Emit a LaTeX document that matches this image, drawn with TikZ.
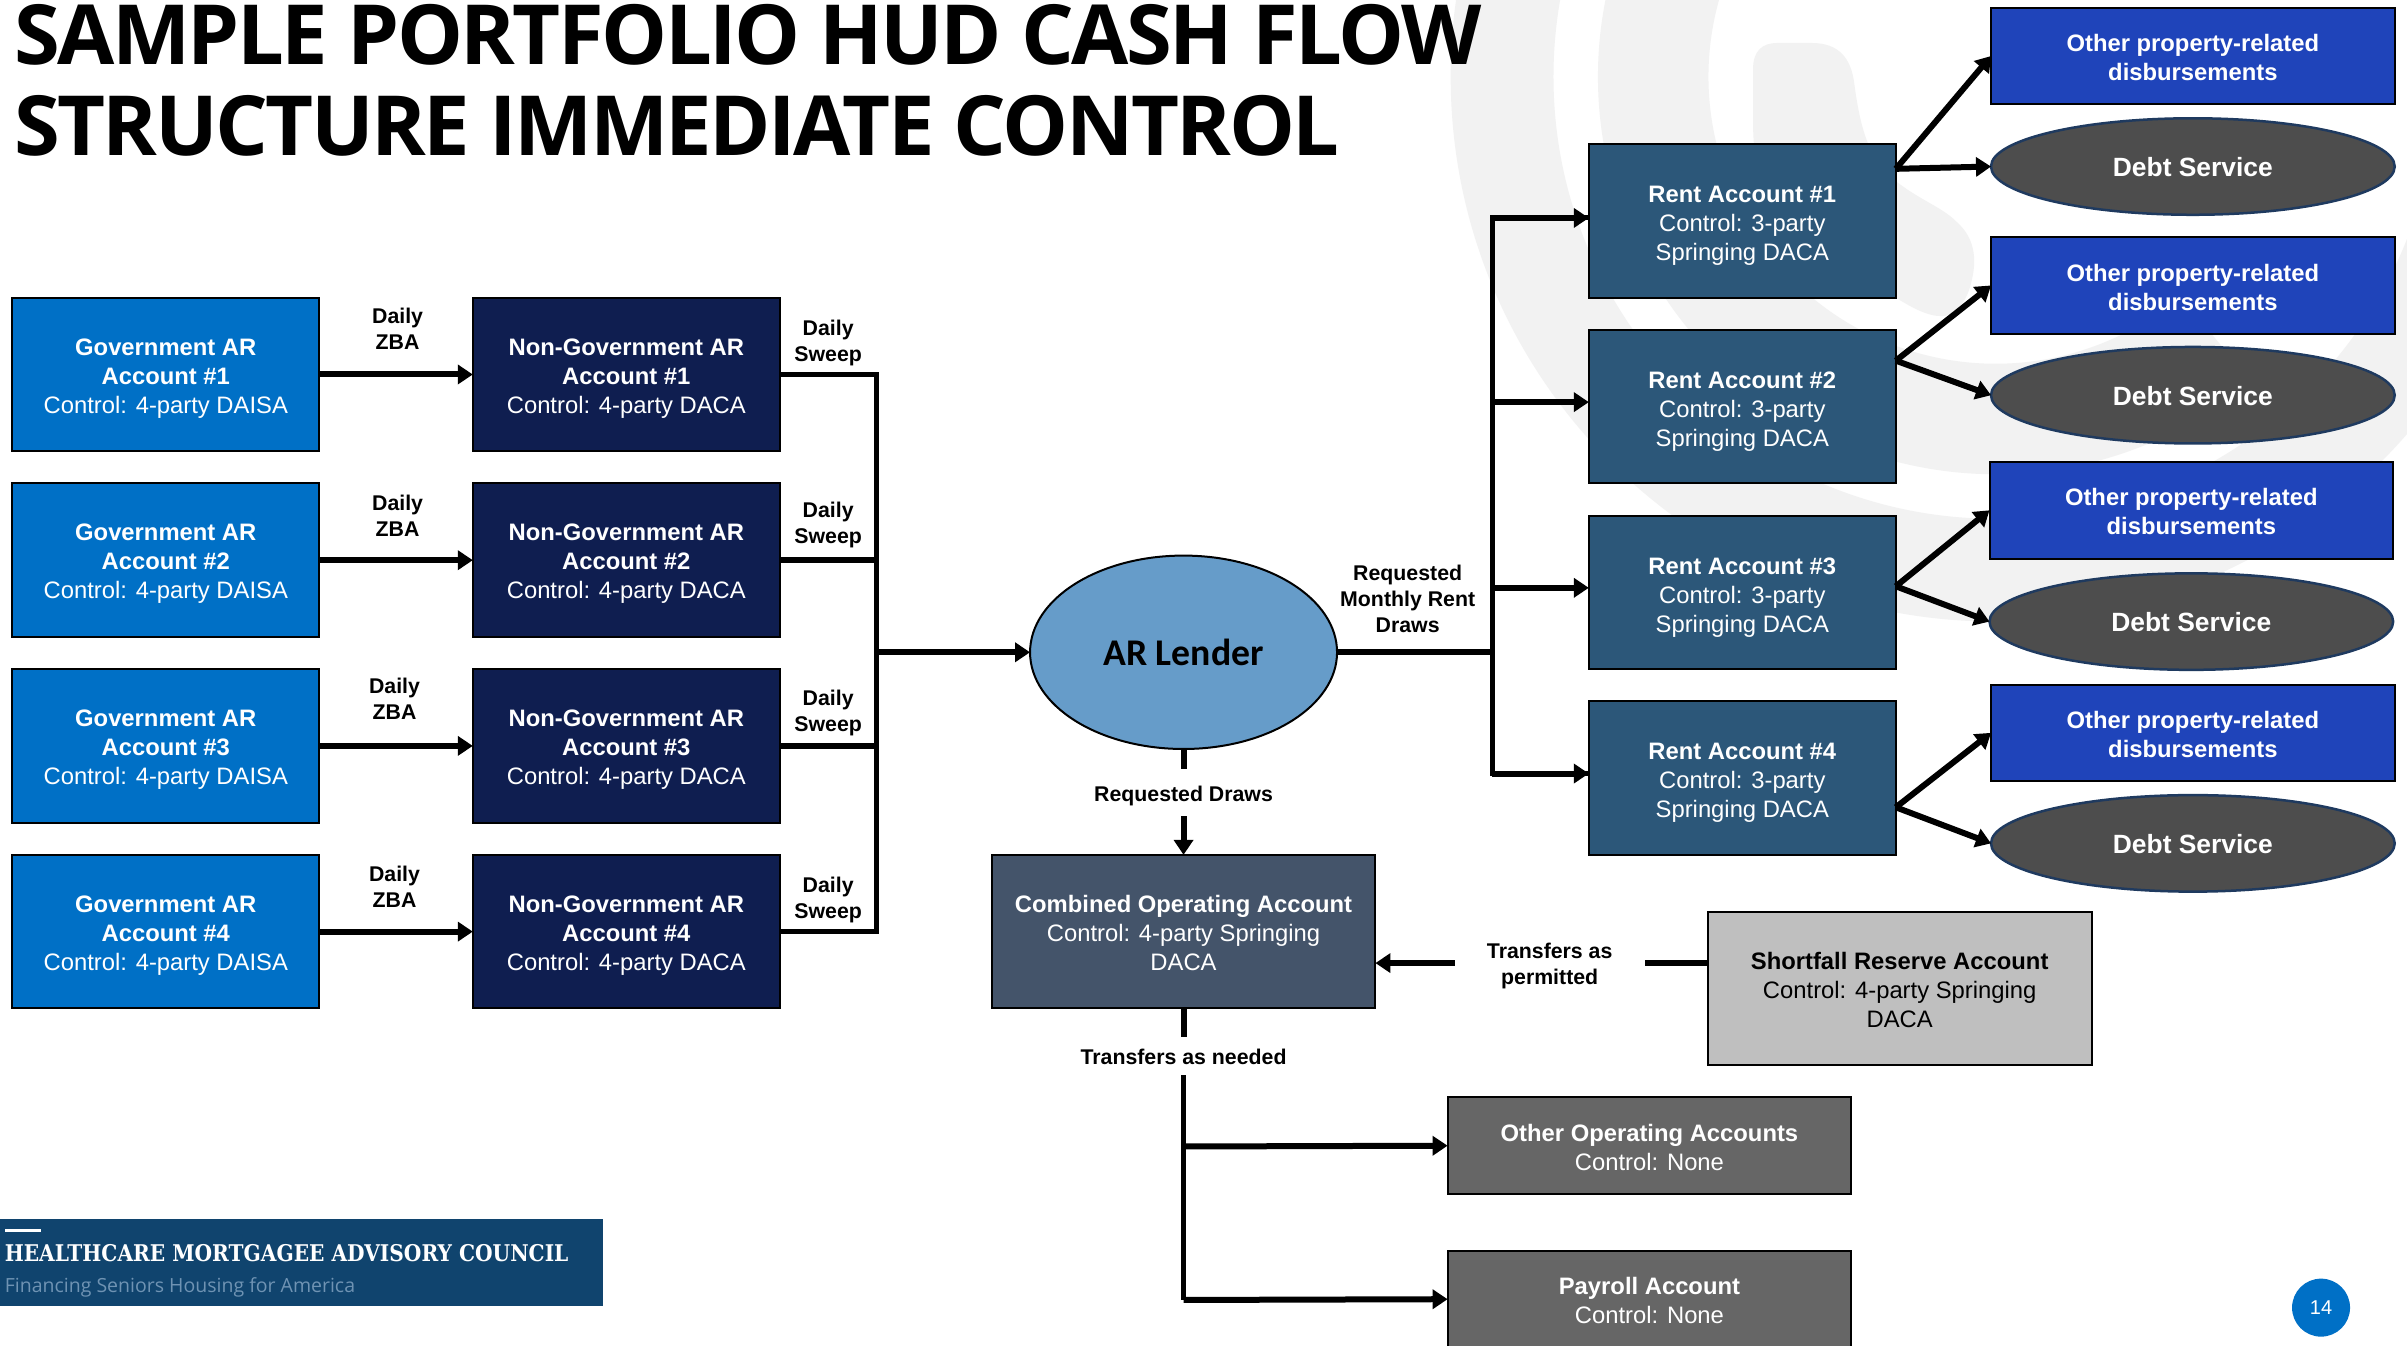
\documentclass[tikz,border=0pt]{standalone}
\usepackage{fontspec}
\setmainfont{Liberation Sans}
\newfontfamily\titlefont{Open Sans}[LetterSpace=-3]
\newfontfamily\lenderfont{Carlito}
\newfontfamily\logoserif{DejaVu Serif}
\newfontfamily\logosans{Open Sans}
\usetikzlibrary{arrows.meta,shapes.geometric}
\definecolor{wmgray}{HTML}{F2F2F2}
\definecolor{govblue}{HTML}{0070C6}
\definecolor{nonblue}{HTML}{0F1E50}
\definecolor{rentblue}{HTML}{2C5779}
\definecolor{otherblue}{HTML}{1F44BA}
\definecolor{debtgray}{HTML}{4D4D4D}
\definecolor{debtedge}{HTML}{1F3A5F}
\definecolor{lenderblue}{HTML}{669CC9}
\definecolor{combslate}{HTML}{44546A}
\definecolor{shortgray}{HTML}{BFBFBF}
\definecolor{opsgray}{HTML}{666666}
\definecolor{logoblue}{HTML}{10446E}
\definecolor{logosub}{HTML}{6F93B3}
\newcommand{\bodyfont}{\fontsize{23.8}{29}\selectfont}
\newcommand{\labelfont}{\fontsize{21.3}{26}\selectfont\bfseries}
\newcommand{\tallA}{\rule{0pt}{26.5pt}}
\newcommand{\tallG}{\rule{0pt}{24pt}}
\newcommand{\tallB}{\rule{0pt}{20.5pt}}
\newcommand{\tallC}{\rule{0pt}{20.5pt}}
\tikzset{
  acct/.style={rectangle,draw=black,line width=2pt,inner sep=0pt,outer sep=0pt,text=white,align=center,font=\bodyfont},
  wide200/.style={acct,minimum width=307pt,minimum height=153.5pt},
  wide263/.style={acct,minimum width=403.7pt,minimum height=96.5pt},
  wide250/.style={acct,minimum width=383.8pt,minimum height=153.5pt},
  debtoval/.style={ellipse,draw=debtedge,line width=2.5pt,fill=debtgray,inner sep=0pt,outer sep=0pt,minimum width=403.7pt,minimum height=96.5pt,text=white,font=\fontsize{26.4}{30}\selectfont\bfseries},
  lbl/.style={align=center,font=\labelfont,text=black,inner sep=0pt},
  gaplbl/.style={lbl,inner ysep=10pt,inner xsep=32pt},
  flow/.style={line width=6pt,draw=black,-{Triangle[length=15pt,width=19pt]}},
  plainflow/.style={line width=6pt,draw=black,line cap=butt},
  bus/.style={line width=5pt,draw=black,line join=miter},
}
\begin{document}
\begin{tikzpicture}[x=1.53508pt,y=-1.53478pt]
\useasboundingbox (0,0) rectangle (1568,877);
\fill[white] (0,0) rectangle (1568,877);
% watermark
\begin{scope}
\clip (0,0) rectangle (1568,877);
\draw[wmgray,line width=102.8pt] (1300,50) circle (321.5);
\draw[wmgray,line width=110.5pt] (1300,50) ++(200:223) arc[start angle=200,end angle=50,radius=223];
\fill[wmgray] (1142,45) .. controls (1142,33) and (1148,28) .. (1158,28)
  -- (1180,28) .. controls (1198,28) and (1206,38) .. (1208,55)
  .. controls (1212,85) and (1218,105) .. (1235,118)
  .. controls (1250,130) and (1265,135) .. (1274,144)
  .. controls (1288,156) and (1288,172) .. (1283,188)
  .. controls (1279,200) and (1272,206) .. (1265,206)
  .. controls (1255,206) and (1245,200) .. (1235,194)
  -- (1170,180) .. controls (1150,150) and (1142,110) .. (1142,80) -- cycle;
\end{scope}
% title
\node[anchor=west,inner sep=0pt,font=\titlefont\fontsize{83}{90}\selectfont\bfseries] (title1) at (9,23) {SAMPLE PORTFOLIO HUD CASH FLOW};
\node[anchor=west,inner sep=0pt,font=\titlefont\fontsize{83}{90}\selectfont\bfseries] (title2) at (9,82) {STRUCTURE IMMEDIATE CONTROL};
% left columns
\foreach \n/\y in {1/244,2/365,3/486,4/607}{
  \node[wide200,fill=govblue] (g\n) at (108,\y) {\tallG\textbf{Government AR}\\\textbf{Account \#\n}\\Control: 4-party DAISA};
  \node[wide200,fill=nonblue] (a\n) at (408,\y) {\tallG\textbf{Non-Government AR}\\\textbf{Account \#\n}\\Control: 4-party DACA};
  \draw[flow] (g\n.east) -- (a\n.west);
}
\node[lbl] (z1) at (259,214.5) {Daily\\ZBA};
\node[lbl] (z2) at (259,336) {Daily\\ZBA};
\node[lbl] (z3) at (257,455) {Daily\\ZBA};
\node[lbl] (z4) at (257,577.5) {Daily\\ZBA};
\node[lbl] (s1) at (539.5,223.5) {Daily\\Sweep};
\node[lbl] (s2) at (539.5,342) {Daily\\Sweep};
\node[lbl] (s3) at (539.5,464.5) {Daily\\Sweep};
\node[lbl] (s4) at (539.5,586.5) {Daily\\Sweep};
% sweep bus
\coordinate (sb1) at (571,244);
\coordinate (sb2) at (571,365);
\coordinate (sb3) at (571,486);
\coordinate (sb4) at (571,607);
\coordinate (sbm) at (571,425);
\draw[bus] (a1.east) -- (sb1) -- (sb4) -- (a4.east);
\draw[plainflow] (a2.east) -- (sb2);
\draw[plainflow] (a3.east) -- (sb3);
% lender
\node[ellipse,draw=black,line width=2pt,fill=lenderblue,inner sep=0pt,outer sep=0pt,minimum width=307pt,minimum height=193.4pt,font=\lenderfont\fontsize{37.7}{40}\selectfont\bfseries] (lender) at (771,425) {AR Lender};
\draw[flow] (sbm) -- (lender.west);
% rent accounts
\foreach \n/\y in {1/144,2/265,3/386,4/507}{
  \node[wide200,fill=rentblue] (r\n) at (1135,\y) {\tallA\textbf{Rent Account \#\n}\\Control: 3-party\\Springing DACA};
}
\coordinate (rb) at (972,425);
\coordinate (rbt) at (972,142);
\coordinate (rb2) at (972,262);
\coordinate (rb3) at (972,383);
\coordinate (rbb) at (972,504);
\draw[plainflow] (lender.east) -- (rb);
\draw[bus] (r1.west |- rbt) -- (rbt) -- (rbb) -- (r4.west |- rbb);
\draw[flow] (rbt) -- (r1.west |- rbt);
\draw[flow] (rb2) -- (r2.west |- rb2);
\draw[flow] (rb3) -- (r3.west |- rb3);
\draw[flow] (rbb) -- (r4.west |- rbb);
\node[lbl] (rdl) at (917,390) {Requested\\Monthly Rent\\Draws};
% right column
\node[wide263,fill=otherblue,font=\bodyfont\bfseries] (p1) at (1428.5,36.5) {\tallB Other property-related\\disbursements};
\node[wide263,fill=otherblue,font=\bodyfont\bfseries] (p2) at (1428.5,186) {\tallB Other property-related\\disbursements};
\node[wide263,fill=otherblue,font=\bodyfont\bfseries] (p3) at (1427.5,332.5) {\tallB Other property-related\\disbursements};
\node[wide263,fill=otherblue,font=\bodyfont\bfseries] (p4) at (1428.5,477.5) {\tallB Other property-related\\disbursements};
\node[debtoval] (d1) at (1428.5,108.5) {\tallC Debt Service};
\node[debtoval] (d2) at (1428.5,257.5) {\tallC Debt Service};
\node[debtoval] (d3) at (1427.5,405) {\tallC Debt Service};
\node[debtoval] (d4) at (1428.5,549.5) {\tallC Debt Service};
\coordinate (ro1) at (1235,110);
\coordinate (ro2) at (1235,235);
\coordinate (ro3) at (1235,382);
\coordinate (ro4) at (1235,526);
\foreach \n in {1,2,3,4}{
  \draw[flow] (ro\n) -- (p\n.west);
  \draw[flow] (ro\n) -- (d\n.west);
}
% combined
\node[wide250,fill=combslate] (comb) at (771,607) {\tallB\textbf{Combined Operating Account}\\Control: 4-party Springing\\DACA};
\node[gaplbl] (reqd) at (771,516.5) {\rule{0pt}{22pt}Requested Draws};
\draw[plainflow] (lender.south) -- (reqd.north);
\draw[flow] (reqd.south) -- (comb.north);
% shortfall
\node[wide250,fill=shortgray,text=black] (short) at (1237.5,644) {\tallB\textbf{Shortfall Reserve Account}\\Control: 4-party Springing\\DACA};
\node[gaplbl] (perm) at (1009.5,627.5) {\rule{0pt}{22pt}Transfers as\\permitted};
\draw[plainflow] (short.west |- perm.east) -- (perm.east);
\draw[flow] (perm.west) -- (comb.east |- perm.west);
% ops
\node[wide263,fill=opsgray] (oth) at (1074.5,746.5) {\tallB\textbf{Other Operating Accounts}\\Control: None};
\node[wide263,fill=opsgray] (pay) at (1074.5,846.5) {\tallB\textbf{Payroll Account}\\Control: None};
\node[gaplbl] (need) at (771,688) {\rule{0pt}{18pt}Transfers as needed};
\draw[plainflow] (comb.south) -- (need.north);
\coordinate (nb) at (771,847);
\coordinate (nm) at (771,747);
\draw[bus] (need.south) -- (nb);
\draw[flow] (nm) -- (oth.west);
\draw[flow] (nb) -- (pay.west);
% logo
\fill[logoblue] (0,794) rectangle (393,851);
\fill[white] (3.5,800.5) rectangle (27,803);
\node[anchor=west,inner sep=0pt,text=white,xscale=0.877,transform shape,font=\logoserif\fontsize{23}{26}\selectfont\bfseries] (logo1) at (3,816.5) {HEALTHCARE MORTGAGEE ADVISORY COUNCIL};
\node[anchor=west,inner sep=0pt,text=logosub,font=\logosans\fontsize{19.5}{22}\selectfont] (logo2) at (3,839) {Financing Seniors Housing for America};
% page number
\node[circle,fill=govblue,inner sep=0pt,minimum size=58pt,text=white,font=\fontsize{20}{24}\selectfont] (page) at (1512,852) {14};
\end{tikzpicture}
\end{document}
